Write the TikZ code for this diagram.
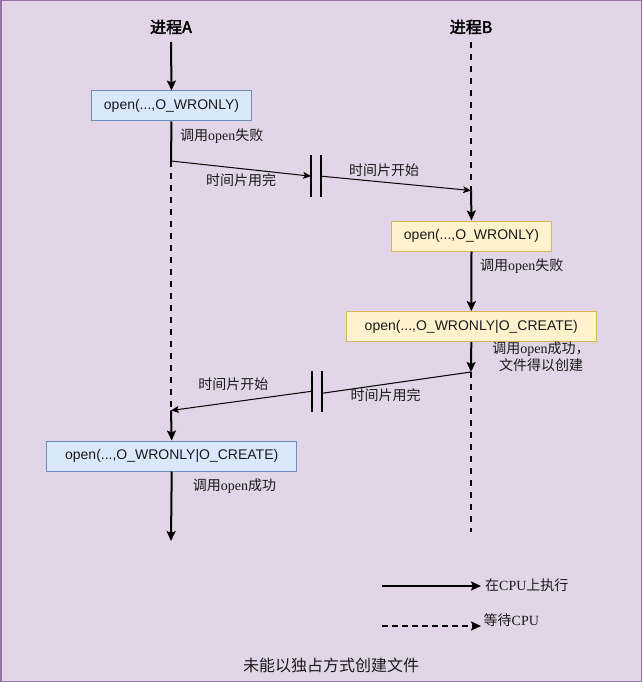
\documentclass[tikz,border=0pt]{standalone}
\usepackage{fontspec}
\setmainfont{Liberation Sans}
\newfontfamily\cjk[AutoFakeBold=2.5]{Noto Sans CJK SC}
\newfontfamily\lsr{Liberation Serif}
\usetikzlibrary{arrows.meta}
\definecolor{bgp}{HTML}{E1D5E7}
\definecolor{bgs}{HTML}{9673A6}
\definecolor{bluef}{HTML}{DAE8FC}
\definecolor{blues}{HTML}{6C8EBF}
\definecolor{yelf}{HTML}{FFF2CC}
\definecolor{yels}{HTML}{D6B656}
\definecolor{txt}{HTML}{1A1A1A}
\tikzset{
  x=1pt,y=-1pt,
  bluebox/.style={draw=blues,fill=bluef,line width=1pt,minimum height=30pt,inner sep=0pt,font=\fontsize{14}{16}\selectfont,text=txt},
  yelbox/.style={draw=yels,fill=yelf,line width=1pt,minimum height=30pt,inner sep=0pt,font=\fontsize{14}{16}\selectfont,text=txt},
  ttl/.style={font=\fontsize{16}{18}\selectfont\cjk\bfseries,inner sep=0pt},
  lbl/.style={font=\fontsize{14}{17}\selectfont\cjk,inner sep=0pt,text=txt},
  thickarr/.style={line width=2pt,-{Stealth[length=10pt,width=9pt,inset=2pt]}},
  thickln/.style={line width=2pt},
  dashln/.style={line width=2pt,dash pattern=on 6pt off 6pt},
  thinarr/.style={line width=1pt,-{Stealth[length=8pt,width=7pt,inset=2pt]}},
  thinln/.style={line width=1pt},
  barbox/.style={minimum width=10pt,minimum height=42pt,inner sep=0pt},
  barln/.style={line width=2pt},
}
\begin{document}
\begin{tikzpicture}
\useasboundingbox (0,0) rectangle (642,682);
\draw[fill=bgp,draw=bgs,line width=1.5pt] (0.75,0.75) rectangle (641.25,681.25);

% titles
\node[ttl] (tA) at (171,27) {进程A};
\node[ttl] (tB) at (471,27) {进程B};

% boxes
\node[bluebox,minimum width=160pt] (a1) at (171.5,106) {open(...,O\_WRONLY)};
\node[yelbox,minimum width=160pt] (b1) at (471.5,236) {open(...,O\_WRONLY)};
\node[yelbox,minimum width=250pt] (b2) at (471.3,326.7) {open(...,O\_WRONLY|O\_CREATE)};
\node[bluebox,minimum width=250pt] (a2) at (171.7,456) {open(...,O\_WRONLY|O\_CREATE)};

% coordinates
\coordinate (aTop) at (171,42);
\coordinate (aS1) at (171,161);
\coordinate (aS2) at (171,410.5);
\coordinate (aEnd) at (171,541);
\coordinate (bTop) at (471,42);
\coordinate (bS1) at (471,190.5);
\coordinate (bS2) at (471,372);
\coordinate (bEnd) at (471,532);

% bars
\node[barbox] (bar1) at (316.2,176.2) {};
\node[barbox,minimum height=41pt] (bar2) at (316.7,391.3) {};
\draw[barln] (bar1.north west) -- (bar1.south west);
\draw[barln] (bar1.north east) -- (bar1.south east);
\draw[barln] (bar2.north west) -- (bar2.south west);
\draw[barln] (bar2.north east) -- (bar2.south east);

% process A
\draw[thickarr] (aTop) -- (a1.north);
\draw[thickln] (a1.south) -- (aS1);
\draw[dashln] (aS1) -- (aS2);
\draw[thickarr] (aS2) -- (a2.north);
\draw[thickarr] (a2.south) -- (aEnd);

% process B
\draw[dashln] (bTop) -- (bS1);
\draw[thickarr] (bS1) -- (b1.north);
\draw[thickarr] (b1.south) -- (b2.north);
\draw[thickarr] (b2.south) -- (bS2);
\draw[dashln] (bS2) -- (bEnd);

% switches
\draw[thinarr] (aS1) -- (bar1.west);
\draw[thinarr] (bar1.east) -- (bS1);
\draw[thinln] (bS2) -- ([yshift=-2pt]bar2.east);
\draw[thinarr] (bar2.west) -- (aS2);

% labels
\node[lbl,anchor=west] (l1) at (180,136.5) {调用{\lsr open}失败};
\node[lbl] (l2) at (241,180.5) {时间片用完};
\node[lbl] (l3) at (384,170.5) {时间片开始};
\node[lbl,anchor=west] (l4) at (480,266.5) {调用{\lsr open}失败};
\node[lbl,align=center] (l5) at (541,356.5) {调用{\lsr open}成功，\\文件得以创建};
\node[lbl] (l6) at (233.3,384.5) {时间片开始};
\node[lbl] (l7) at (385.7,395) {时间片用完};
\node[lbl,anchor=west] (l8) at (192.7,486.5) {调用{\lsr open}成功};

% legend
\coordinate (lg1s) at (381.5,586);
\coordinate (lg1e) at (481,586);
\coordinate (lg2s) at (381.5,626);
\coordinate (lg2e) at (481,626);
\draw[line width=2pt,-{Stealth[length=10pt,width=9pt,inset=2pt]}] (lg1s) -- (lg1e);
\draw[line width=2pt,dash pattern=on 6pt off 4pt,-{Stealth[length=10pt,width=9pt,inset=2pt]}] (lg2s) -- (lg2e);
\node[lbl,anchor=west] (lg1) at (485,585) {在{\lsr CPU}上执行};
\node[lbl,anchor=west] (lg2) at (483.5,620) {等待{\lsr CPU}};

% caption
\node[lbl,font=\fontsize{16}{18}\selectfont\cjk] (cap) at (331,665) {未能以独占方式创建文件};
\end{tikzpicture}
\end{document}
